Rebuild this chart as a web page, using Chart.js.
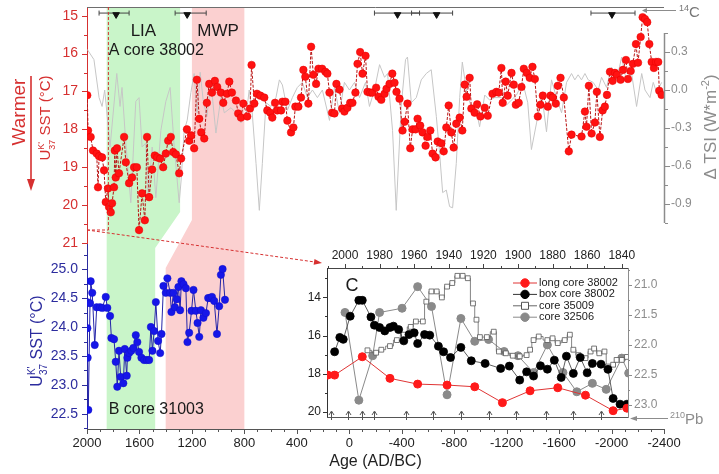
<!DOCTYPE html>
<html lang="en">
<head>
<meta charset="UTF-8" />
<title>UK'37 SST records</title>
<script src="https://cdn.jsdelivr.net/npm/chart.js"></script>
<style>
  html, body { margin: 0; padding: 0; background: #ffffff; }
  #figure { position: relative; width: 719px; height: 474px; overflow: hidden; }
  #figure canvas { position: absolute; left: 0; top: 0; }
</style>
</head>
<body>
<div id="figure">
  <canvas id="panelB" width="719" height="474"></canvas>
  <canvas id="panelA" width="719" height="474"></canvas>
  <canvas id="panelC" width="719" height="474"></canvas>
</div>
<script>
// ---- panel A, core 38002: age (AD, negative = BC) and UK'37 SST (°C)
const ageA = [
  1998, 1992, 1972, 1954, 1926, 1916, 1908, 1885, 1870, 1857,
  1840, 1832, 1819, 1809, 1794, 1788, 1781, 1771, 1756, 1717,
  1704, 1679, 1656, 1641, 1620, 1603, 1580, 1559, 1542, 1526,
  1503, 1483, 1465, 1442, 1419, 1399, 1381, 1361, 1343, 1322,
  1297, 1282, 1238, 1221, 1206, 1183, 1162, 1144, 1129, 1106,
  1086, 1068, 1047, 1025, 1007, 979, 961, 933, 915, 895,
  864, 847, 826, 808, 778, 757, 745, 724, 704, 678,
  648, 625, 602, 587, 566, 549, 520, 510, 487, 472,
  444, 426, 411, 388, 368, 350, 335, 312, 291, 274,
  253, 235, 207, 182, 167, 151, 131, 113, 98, 75,
  54, 37, 14, -7, -24, -47, -63, -83, -101, -124,
  -139, -160, -177, -205, -223, -244, -269, -284, -307, -328,
  -345, -360, -383, -406, -422, -444, -465, -483, -506, -521,
  -541, -559, -582, -597, -618, -635, -658, -674, -702, -720,
  -740, -758, -778, -796, -816, -842, -862, -880, -895, -918,
  -931, -956, -975, -1000, -1033, -1056, -1092, -1122, -1140, -1160,
  -1170, -1193, -1208, -1237, -1254, -1270, -1292, -1313, -1331, -1354,
  -1376, -1397, -1415, -1438, -1458, -1476, -1514, -1535, -1552, -1575,
  -1590, -1611, -1636, -1674, -1695, -1771, -1797, -1809, -1827, -1848,
  -1873, -1888, -1911, -1932, -1949, -1965, -1988, -2008, -2026, -2041,
  -2069, -2087, -2110, -2125, -2146, -2163, -2186, -2202, -2222, -2237,
  -2255, -2272, -2288, -2306, -2323, -2339, -2356, -2364, -2382
];
const sstA = [
  17.1, 18.03, 18.2, 18.56, 18.64, 19.53, 18.71, 18.74, 19.08, 19.92,
  19.56, 20.05, 20.19, 19.95, 19.53, 18.56, 19.27, 18.5, 19.16, 18.2,
  18.87, 19.42, 19.27, 19.0, 19.0, 20.66, 19.69, 20.4, 18.2, 19.79,
  19.06, 18.69, 18.74, 18.77, 19.0, 18.64, 18.3, 18.2, 18.6, 18.66,
  19.16, 18.77, 18.0, 18.3, 18.16, 18.5, 16.69, 17.72, 18.08, 18.24,
  17.3, 16.8, 17.03, 16.72, 16.88, 17.03, 17.3, 17.06, 16.74, 17.03,
  17.24, 17.58, 17.69, 17.32, 17.66, 17.45, 16.3, 17.32, 17.06, 17.11,
  17.16, 17.5, 17.56, 17.69, 17.3, 17.5, 17.5, 17.27, 17.27, 17.77,
  18.08, 17.95, 17.4, 17.4, 17.16, 16.43, 16.61, 17.32, 15.82, 16.56,
  16.8, 16.4, 16.4, 16.48, 16.53, 17.03, 17.56, 17.58, 16.8, 16.95,
  17.45, 17.53, 17.43, 17.3, 17.3, 17.03, 16.27, 15.96, 16.53, 16.06,
  17.01, 17.03, 17.03, 16.9, 17.14, 17.22, 17.06, 16.93, 16.8, 16.53,
  16.77, 17.01, 17.19, 18.03, 17.8, 17.32, 18.5, 18.0, 18.0, 17.72,
  17.9, 18.08, 18.43, 18.2, 18.03, 18.64, 18.74, 18.32, 18.37, 18.58,
  17.95, 17.37, 18.08, 18.48, 17.85, 17.69, 18.03, 16.82, 17.14, 16.64,
  17.45, 17.56, 17.34, 17.66, 17.43, 17.64, 17.06, 17.01, 17.03, 16.38,
  17.3, 16.74, 17.11, 16.51, 16.82, 17.35, 17.3, 16.88, 16.4, 16.51,
  16.64, 16.35, 16.67, 17.66, 17.35, 17.11, 17.4, 17.11, 17.16, 17.32,
  16.85, 16.64, 17.16, 18.58, 18.14, 18.19, 17.53, 17.93, 16.85, 18.11,
  17.82, 17.01, 18.2, 17.5, 17.4, 17.09, 16.48, 16.72, 16.51, 16.56,
  16.69, 16.43, 16.17, 16.67, 16.46, 16.27, 15.75, 16.24, 15.56, 15.04,
  15.09, 15.17, 15.75, 16.22, 16.38, 16.22, 16.22, 16.98, 17.09
];

// ---- panel A, total solar irradiance anomaly (W m-2)
const ageTSI = [
  1998, 1947, 1908, 1885, 1865, 1824, 1773, 1748, 1733, 1704,
  1666, 1628, 1603, 1580, 1552, 1534, 1503, 1475, 1437, 1399,
  1366, 1335, 1297, 1282, 1259, 1236, 1208, 1183, 1160, 1137,
  1114, 1086, 1055, 1017, 979, 953, 902, 864, 826, 788,
  763, 740, 711, 686, 663, 635, 597, 559, 533, 510,
  472, 434, 396, 358, 319, 281, 243, 205, 151, 113,
  75, 37, -1, -40, -78, -124, -154, -192, -231, -269,
  -292, -330, -358, -396, -429, -444, -473, -511, -549, -587,
  -625, -664, -689, -712, -740, -765, -788, -816, -842, -862,
  -893, -931, -969, -994, -1033, -1071, -1109, -1160, -1198, -1236,
  -1275, -1323, -1361, -1389, -1428, -1466, -1504, -1542, -1580, -1619,
  -1657, -1695, -1720, -1745, -1771, -1797, -1822, -1860, -1898, -1924,
  -1962, -2000, -2039, -2077, -2115, -2153, -2191, -2230, -2255, -2293,
  -2318, -2344, -2382
];
const tsiA = [
  0.32, 0.24, -0.06, -0.13, 0, -0.45, 0.13, -0.13, 0.02, -0.42,
  -0.89, -0.09, -0.06, -0.45, -0.42, -0.85, -0.45, -0.85, -0.32, -0.09,
  0.02, -0.45, -0.89, -0.71, -0.32, -0.24, -0.02, 0.13, -0.18, 0.14,
  -0.08, -0.21, 0.06, -0.34, -0.06, -0.18, -0.14, -0.18, -0.26, -0.21,
  0, -0.18, -0.58, -0.95, -0.58, -0.1, -0.13, -0.06, 0.08, 0.04,
  -0.16, -0.06, 0.02, 0.06, -0.06, 0, -0.06, 0, -0.24, 0.02,
  -0.18, 0.06, 0, 0.06, -0.06, 0.06, -0.13, 0, 0.2, 0.1,
  0.13, -0.32, -0.95, -0.13, 0.24, 0.26, -0.1, -0.06, 0.08, 0.13,
  0.16, -0.21, -0.5, -0.81, -0.79, -0.92, -0.93, -0.58, -0.06, 0.22,
  0, -0.14, -0.16, -0.29, -0.04, -0.08, -0.06, -0.06, -0.12, -0.08,
  -0.04, 0.06, -0.1, -0.47, -0.26, -0.02, -0.33, 0.08, -0.06, -0.18,
  0.06, 0.13, 0.08, 0.12, 0.08, 0.13, 0.08, 0.06, 0, 0.1,
  0.02, 0.18, 0.08, 0.26, 0.06, 0.13, -0.13, 0.13, 0, -0.06,
  0.06, -0.02, 0.06
];

// ---- 14C dates (triangles) and their age ranges
const c14Age = [1778, 1236, -368, -666, -2003];
const c14Young = [1679, 1091, -536, -788, -2179];
const c14Old = [1908, 1328, -192, -475, -1843];

// ---- panel B, core 31003
const ageB = [
  1999, 1997, 1995, 1990, 1977, 1972, 1960, 1941, 1926, 1901,
  1883, 1857, 1845, 1824, 1814, 1794, 1781, 1769, 1756, 1743,
  1723, 1712, 1697, 1692, 1679, 1662, 1646, 1628, 1616, 1603,
  1585, 1565, 1544, 1526, 1513, 1501, 1488, 1475, 1458, 1442,
  1432, 1417, 1399, 1387, 1366, 1356, 1341, 1330, 1315, 1303,
  1290, 1280, 1264, 1246, 1234, 1221, 1203, 1188, 1170, 1157,
  1144, 1131, 1112, 1093, 1076, 1060, 1047, 1030, 1009, 992,
  979, 966, 948
];
const sstB = [
  24.43, 23.98, 23.47, 22.57, 24.41, 24.79, 24.59, 23.69, 24.34, 24.34,
  24.33, 24.52, 24.33, 24.19, 23.81, 23.79, 23.4, 22.97, 23.59, 23.14,
  23.03, 23.62, 23.16, 23.47, 23.55, 23.59, 23.64, 23.86, 23.74, 23.57,
  23.47, 23.43, 23.43, 23.43, 24.0, 23.59, 23.93, 24.43, 23.76, 23.55,
  23.88, 24.71, 24.59, 24.84, 24.59, 24.26, 24.59, 24.34, 24.48, 24.69,
  24.29, 24.79, 24.74, 24.67, 23.74, 23.9, 24.28, 24.64, 24.28, 24.07,
  23.83, 24.29, 24.16, 24.24, 24.5, 24.5, 24.52, 24.45, 23.88, 24.36,
  24.9, 25.0, 24.47
];

// ---- panel C, last two centuries (year AD)
const yearLong = [2010, 2006, 1990, 1974, 1958, 1941, 1925, 1909, 1893, 1877, 1861, 1845, 1837];
const sstLong = [18.07, 18.07, 17.11, 18.24, 18.54, 18.59, 18.68, 19.51, 18.89, 18.73, 19.12, 19.93, 19.8];
const yearBox = [
  2006, 2003, 2001, 1997, 1992, 1990, 1985, 1983, 1980, 1977,
  1974, 1972, 1969, 1966, 1963, 1960, 1958, 1954, 1951, 1946,
  1943, 1939, 1933, 1927, 1919, 1910, 1905, 1899, 1895, 1891,
  1887, 1883, 1879, 1875, 1872, 1868, 1864, 1860, 1857, 1852,
  1848, 1845, 1841, 1837
];
const sstBox = [
  16.85, 16.1, 16.2, 14.99, 14.16, 14.16, 15.03, 15.46, 15.58, 15.76,
  15.58, 15.51, 15.69, 16.28, 15.95, 15.86, 16.42, 15.95, 15.98, 16.56,
  16.85, 17.15, 16.62, 17.32, 17.46, 17.72, 17.6, 18.33, 17.9, 18.12,
  17.58, 17.76, 17.29, 18.19, 17.08, 17.98, 17.15, 17.95, 17.46, 17.5,
  17.77, 19.29, 19.59, 19.59
];
const year35009 = [
  1987, 1982, 1979, 1974, 1970, 1966, 1962, 1959, 1955, 1953,
  1950, 1947, 1944, 1941, 1938, 1935, 1932, 1929, 1926, 1924,
  1922, 1918, 1914, 1911, 1907, 1903, 1899, 1895, 1893, 1891,
  1888, 1883, 1880, 1877, 1873, 1870, 1868, 1865, 1861, 1858,
  1856, 1853, 1850, 1848, 1845, 1843, 1840, 1837
];
const sst35009 = [
  22.09, 22.13, 22.08, 22.02, 21.92, 21.83, 21.7, 21.61, 21.61, 21.28,
  21.11, 21.11, 21.21, 21.03, 20.97, 20.85, 20.85, 20.89, 21.31, 21.58,
  21.87, 21.87, 21.78, 22.11, 22.14, 22.18, 22.19, 22.17, 22.08, 21.92,
  21.86, 21.92, 21.89, 21.97, 21.92, 21.83, 22.08, 22.17, 22.22, 22.11,
  22.06, 22.14, 22.11, 22.36, 22.33, 22.25, 22.25, 22.2
];
const year32506 = [2000, 1992, 1984, 1980, 1967, 1958, 1950, 1941, 1933, 1925, 1917, 1908, 1900, 1891, 1883, 1874, 1866, 1857, 1849, 1840, 1836];
const sst32506 = [21.46, 22.92, 22.18, 21.46, 21.39, 21.03, 21.36, 22.83, 21.56, 21.94, 21.91, 22.11, 22.18, 22.46, 22.0, 22.46, 22.78, 22.64, 22.74, 22.22, 22.47];
const pb210Years = [2008, 1998, 1990, 1983, 1965, 1949, 1933, 1917, 1901, 1884, 1868, 1852];

// ---- climate intervals (AD) as drawn in panel A and in panel B
const liaA = [1850, 1290], liaB = [1850, 1480];
const mwpA = [1200, 800], mwpB = [1400, 800];

// ---- tick labels
const ageTicks = [2000, 1600, 1200, 800, 400, 0, -400, -800, -1200, -1600, -2000, -2400];
const sstTicksA = [15, 16, 17, 18, 19, 20, 21];
const tsiTicks = [-0.9, -0.6, -0.3, 0, 0.3];
const sstTicksB = [22.5, 23, 23.5, 24, 24.5, 25];
const yearTicksC = [2000, 1980, 1960, 1940, 1920, 1900, 1880, 1860, 1840];
const sstTicksC = [14, 16, 18, 20];
const rightTicksC = [21, 21.5, 22, 22.5, 23];

// ---- layout (pixels)
const W = 719, H = 474;
const PLOT = { left: 87, right: 664 };
const BOX_A = { top: 7, bottom: 243 };
const BOX_B = { top: 243, bottom: 429 };
const INSET = { left: 327, top: 268, right: 628, bottom: 417 };
const SLANT = { lia: [212, 248], mwp: [220, 268] };
const C14_LEVEL = 14.97;

const FONT = "'Liberation Sans', Arial, Helvetica, sans-serif";
const RED = '#d63030';
const BLUE = '#2c2c9e';
const GRAY = '#8c8c8c';
const INK = '#1a1a1a';
Chart.defaults.font.family = FONT;

function pts(xs, ys) { return xs.map((x, i) => ({ x: x, y: ys[i] })); }

function seg(ctx, x1, y1, x2, y2, color, width, dash) {
  ctx.save();
  ctx.beginPath();
  ctx.strokeStyle = color;
  ctx.lineWidth = width || 1;
  ctx.setLineDash(dash || []);
  ctx.moveTo(x1, y1);
  ctx.lineTo(x2, y2);
  ctx.stroke();
  ctx.restore();
}

// filled arrow head, tip at (x, y), pointing along angle
function head(ctx, x, y, angle, len, half, color) {
  ctx.save();
  ctx.translate(x, y);
  ctx.rotate(angle);
  ctx.beginPath();
  ctx.moveTo(0, 0);
  ctx.lineTo(-len, -half);
  ctx.lineTo(-len, half);
  ctx.closePath();
  ctx.fillStyle = color;
  ctx.fill();
  ctx.restore();
}

function tickMarks(ctx, scale, from, to, step, major, edge, dir, color, lens) {
  const n = Math.round((to - from) / step);
  for (let k = 0; k <= n; k++) {
    const v = from + k * step;
    const isMajor = Math.abs(v / major - Math.round(v / major)) < 1e-6;
    const len = isMajor ? lens[0] : lens[1];
    const p = Math.round(scale.getPixelForValue(v)) + 0.5;
    if (scale.isHorizontal()) seg(ctx, p, edge, p, edge + dir * len, color, 1);
    else seg(ctx, edge, p, edge + dir * len, p, color, 1);
  }
}

// text made of normal and superscript parts, optionally rotated to read upwards
function richText(ctx, x, y, parts, size, color, rotated, align) {
  ctx.save();
  ctx.translate(x, y);
  if (rotated) ctx.rotate(-Math.PI / 2);
  ctx.fillStyle = color;
  ctx.textBaseline = 'alphabetic';
  ctx.textAlign = 'left';
  const fonts = parts.map(p => (p[1] ? Math.round(size * 0.62) : size) + 'px ' + FONT);
  const widths = parts.map((p, i) => { ctx.font = fonts[i]; return ctx.measureText(p[0]).width; });
  const total = widths.reduce((a, b) => a + b, 0);
  let cx = align === 'left' ? 0 : -total / 2;
  const base = size * 0.36;
  parts.forEach((p, i) => {
    ctx.font = fonts[i];
    ctx.fillText(p[0], cx, p[1] ? base - size * 0.42 : base);
    cx += widths[i];
  });
  ctx.restore();
}

// "U K' 37 SST (°C)" with stacked super/subscript, rotated
function ukTitle(ctx, x, y, size, color) {
  ctx.save();
  ctx.translate(x, y);
  ctx.rotate(-Math.PI / 2);
  ctx.fillStyle = color;
  ctx.textBaseline = 'alphabetic';
  ctx.textAlign = 'left';
  const big = size + 'px ' + FONT, small = Math.round(size * 0.6) + 'px ' + FONT;
  const rest = ' SST (°C)';
  ctx.font = big;
  const wU = ctx.measureText('U').width, wR = ctx.measureText(rest).width;
  ctx.font = small;
  const wS = Math.max(ctx.measureText("K'").width, ctx.measureText('37').width);
  let cx = -(wU + wS + wR) / 2;
  const base = size * 0.36;
  ctx.font = big; ctx.fillText('U', cx, base); cx += wU;
  ctx.font = small;
  ctx.fillText("K'", cx, base - size * 0.42);
  ctx.fillText('37', cx, base + size * 0.3);
  cx += wS;
  ctx.font = big; ctx.fillText(rest, cx, base);
  ctx.restore();
}

function label(ctx, text, x, y, size, color, align) {
  ctx.save();
  ctx.font = size + 'px ' + FONT;
  ctx.fillStyle = color;
  ctx.textAlign = align || 'center';
  ctx.textBaseline = 'middle';
  ctx.fillText(text, x, y);
  ctx.restore();
}

function fixedBox(w, h) {
  return s => {
    if (w !== null) s.width = w;
    if (h !== null) s.height = h;
    s.paddingLeft = 0; s.paddingRight = 0; s.paddingTop = 0; s.paddingBottom = 0;
  };
}
function setTicks(values) { return s => { s.ticks = values.map(v => ({ value: v })); }; }

// ---------------- bands + panel B ----------------
const bandsPlugin = {
  id: 'bands',
  beforeDraw(chart) {
    const { ctx, chartArea: ca } = chart;
    const x = v => chart.scales.x.getPixelForValue(v);
    const top = BOX_A.top, bottom = ca.bottom;
    ctx.save();
    ctx.fillStyle = '#c9f5c9';
    ctx.beginPath();
    ctx.moveTo(x(liaA[0]), top);
    ctx.lineTo(x(liaA[1]), top);
    ctx.lineTo(x(liaA[1]), SLANT.lia[0]);
    ctx.lineTo(x(liaB[1]), SLANT.lia[1]);
    ctx.lineTo(x(liaB[1]), bottom);
    ctx.lineTo(x(liaB[0]), bottom);
    ctx.closePath();
    ctx.fill();
    ctx.fillStyle = '#fbd0d0';
    ctx.beginPath();
    ctx.moveTo(x(mwpA[0]), top);
    ctx.lineTo(x(mwpA[1]), top);
    ctx.lineTo(x(mwpB[1]), bottom);
    ctx.lineTo(x(mwpB[0]), bottom);
    ctx.lineTo(x(mwpB[0]), SLANT.mwp[1]);
    ctx.lineTo(x(mwpA[0]), SLANT.mwp[0]);
    ctx.closePath();
    ctx.fill();
    ctx.restore();
  }
};

const panelBExtras = {
  id: 'panelBExtras',
  afterDraw(chart) {
    const { ctx, chartArea: ca } = chart;
    tickMarks(ctx, chart.scales.x, -2400, 2000, 100, 400, ca.bottom, 1, '#555', [5, 3]);
    tickMarks(ctx, chart.scales.y, 22.25, 25.25, 0.25, 0.5, ca.left, -1, BLUE, [5, 3]);
    ukTitle(ctx, 36, 341, 16, BLUE);
    label(ctx, 'B core 31003', chart.scales.x.getPixelForValue(liaB[0]) + 2, 410, 16, INK, 'left');
  }
};

const chartB = new Chart(document.getElementById('panelB'), {
  type: 'line',
  data: {
    datasets: [{
      label: 'core 31003',
      data: pts(ageB, sstB),
      borderColor: '#2424a8',
      borderWidth: 1,
      pointRadius: 3.7,
      pointBackgroundColor: '#1616e8',
      pointBorderColor: '#1010c8',
      pointBorderWidth: 0.5
    }]
  },
  options: {
    responsive: false,
    animation: false,
    events: [],
    layout: { padding: { top: BOX_B.top, right: W - PLOT.right, left: 0, bottom: 0 } },
    plugins: { legend: { display: false }, tooltip: { enabled: false } },
    scales: {
      x: {
        type: 'linear', reverse: true, min: -2400, max: 2000,
        afterFit: fixedBox(null, H - BOX_B.bottom),
        afterBuildTicks: setTicks(ageTicks),
        ticks: { callback: v => String(v), color: '#222', font: { size: 13 }, padding: 7, autoSkip: false, maxRotation: 0 },
        grid: { display: false, drawTicks: false },
        border: { color: '#555', width: 1 },
        title: { display: true, text: 'Age (AD/BC)', color: '#222', font: { size: 16 }, padding: { top: 0, bottom: 3 } }
      },
      y: {
        type: 'linear', position: 'left', min: 22.24, max: 25.45,
        afterFit: fixedBox(PLOT.left, null),
        afterBuildTicks: setTicks(sstTicksB),
        ticks: { callback: v => v.toFixed(1), color: BLUE, font: { size: 14 }, padding: 9 },
        grid: { display: false, drawTicks: false },
        border: { color: BLUE, width: 1 }
      }
    }
  },
  plugins: [bandsPlugin, panelBExtras]
});

// ---------------- panel A ----------------
const panelAExtras = {
  id: 'panelAExtras',
  beforeDatasetsDraw(chart) {
    const { ctx } = chart;
    const x = chart.scales.x, yS = chart.scales.ySST;
    const cy = yS.getPixelForValue(C14_LEVEL) - 1.5;
    c14Age.forEach((a, i) => {
      const xo = x.getPixelForValue(c14Old[i]), xy = x.getPixelForValue(c14Young[i]);
      seg(ctx, xo, cy, xy, cy, '#444', 1);
      seg(ctx, xo, cy - 2.5, xo, cy + 2.5, '#444', 1);
      seg(ctx, xy, cy - 2.5, xy, cy + 2.5, '#444', 1);
    });
  },
  afterDraw(chart) {
    const { ctx, chartArea: ca } = chart;
    const x = chart.scales.x, yS = chart.scales.ySST, yT = chart.scales.yTSI;
    // frame top and axis ticks
    seg(ctx, ca.left, ca.top + 0.5, ca.right, ca.top + 0.5, '#6e6e6e', 1);
    tickMarks(ctx, yS, 15, 21, 0.5, 1, ca.left, -1, RED, [5, 3]);
    const tTop = yT.getPixelForValue(0.45), tBot = yT.getPixelForValue(-1.05);
    seg(ctx, ca.right + 0.5, tTop, ca.right + 0.5, tBot, GRAY, 1.5);
    tickMarks(ctx, yT, -1.05, 0.45, 0.15, 0.3, ca.right + 1, 1, GRAY, [5, 3]);

    // 14C pointer
    seg(ctx, ca.right - 21, 10.5, ca.right + 12, 10.5, GRAY, 1);
    head(ctx, ca.right - 22, 10.5, Math.PI, 5, 2.5, GRAY);
    richText(ctx, ca.right + 15, 12, [['14', 1], ['C', 0]], 15, '#777', false, 'left');

    // interval and panel labels
    const px = v => x.getPixelForValue(v);
    label(ctx, 'LIA', (px(liaA[0]) + px(liaA[1])) / 2, ca.top + 24, 17, INK);
    label(ctx, 'MWP', (px(mwpA[0]) + px(mwpA[1])) / 2, ca.top + 24, 17, INK);
    label(ctx, 'A core 38002', px(liaA[0]) + 2, ca.top + 44, 16, INK, 'left');

    // dashed box marking the interval enlarged in C, and arrow to C
    const bx = px(yearLong[yearLong.length - 1]);
    const by = ca.top + 223;
    seg(ctx, bx, ca.top, bx, by, RED, 1, [3, 2]);
    seg(ctx, ca.left, by, bx, by, RED, 1, [3, 2]);
    const tx = INSET.left - 5, ty = INSET.top - 5;
    const ang = Math.atan2(ty - by, tx - ca.left);
    seg(ctx, ca.left, by, tx - 7 * Math.cos(ang), ty - 7 * Math.sin(ang), RED, 1, [3, 2]);
    head(ctx, tx, ty, ang, 8, 3, RED);

    // axis titles
    ctx.save();
    ctx.translate(20, 112);
    ctx.rotate(-Math.PI / 2);
    ctx.font = '19px ' + FONT;
    ctx.fillStyle = RED;
    ctx.textAlign = 'center';
    ctx.textBaseline = 'middle';
    ctx.fillText('Warmer', 0, 0);
    ctx.restore();
    seg(ctx, 31, 76, 31, 180, RED, 1.6);
    head(ctx, 31, 191, Math.PI / 2, 12, 4, RED);
    ukTitle(ctx, 45, 118, 15, RED);
    richText(ctx, 710, 127, [['Δ TSI (W*m', 0], ['-2', 1], [')', 0]], 17, GRAY, true);
  }
};

const chartA = new Chart(document.getElementById('panelA'), {
  type: 'line',
  data: {
    datasets: [
      {
        label: 'core 38002',
        data: pts(ageA, sstA),
        yAxisID: 'ySST',
        borderColor: '#b81212',
        borderWidth: 1,
        borderDash: [3, 1.5],
        pointRadius: 3.8,
        pointBackgroundColor: '#ff1212',
        pointBorderColor: '#e60000',
        pointBorderWidth: 0.5
      },
      {
        label: '14C',
        data: c14Age.map(a => ({ x: a, y: C14_LEVEL })),
        yAxisID: 'ySST',
        showLine: false,
        pointStyle: 'triangle',
        rotation: 180,
        pointRadius: 3.8,
        pointBackgroundColor: '#111',
        pointBorderColor: '#111'
      },
      {
        label: 'TSI',
        data: pts(ageTSI, tsiA),
        yAxisID: 'yTSI',
        borderColor: '#c6c6c6',
        borderWidth: 1,
        pointRadius: 0
      }
    ]
  },
  options: {
    responsive: false,
    animation: false,
    events: [],
    layout: { padding: { top: BOX_A.top, bottom: H - BOX_A.bottom, left: 0, right: 0 } },
    plugins: { legend: { display: false }, tooltip: { enabled: false } },
    scales: {
      x: {
        type: 'linear', display: false, reverse: true, min: -2400, max: 2000,
        afterFit: fixedBox(null, 0)
      },
      ySST: {
        type: 'linear', position: 'left', reverse: true, min: 14.77, max: 21,
        afterFit: fixedBox(PLOT.left, null),
        afterBuildTicks: setTicks(sstTicksA),
        ticks: { callback: v => String(v), color: RED, font: { size: 14 }, padding: 9 },
        grid: { display: false, drawTicks: false },
        border: { color: RED, width: 1, dash: [2, 2] }
      },
      yTSI: {
        type: 'linear', position: 'right', min: -1.2076, max: 0.655,
        afterFit: fixedBox(W - PLOT.right, null),
        afterBuildTicks: setTicks(tsiTicks),
        ticks: { callback: v => v.toFixed(1), color: GRAY, font: { size: 12 }, padding: 7 },
        grid: { display: false, drawTicks: false },
        border: { display: false }
      }
    }
  },
  plugins: [panelAExtras]
});

// ---------------- panel C (inset) ----------------
const panelCExtras = {
  id: 'panelCExtras',
  beforeDraw(chart) {
    const { ctx, chartArea: ca } = chart;
    ctx.save();
    ctx.fillStyle = '#ffffff';
    ctx.fillRect(ca.left, ca.top, ca.right - ca.left, ca.bottom - ca.top);
    ctx.restore();
  },
  afterDraw(chart) {
    const { ctx, chartArea: ca } = chart;
    const x = chart.scales.x;
    seg(ctx, ca.left, ca.bottom + 0.5, ca.right, ca.bottom + 0.5, '#555', 1);
    tickMarks(ctx, x, 1840, 2010, 10, 20, ca.top, -1, '#444', [4, 2]);
    tickMarks(ctx, chart.scales.yL, 13, 20, 1, 2, ca.left, -1, '#333', [4, 2]);
    tickMarks(ctx, chart.scales.yR, 20.75, 23, 0.25, 0.5, ca.right, 1, GRAY, [4, 2]);

    label(ctx, 'C', ca.left + 25, ca.top + 18, 18, INK);

    // legend
    const lx = ca.left + 186;
    chart.data.datasets.forEach((ds, i) => {
      const y = ca.top + 15 + i * 11.4;
      seg(ctx, lx, y, lx + 24, y, ds.borderColor, 1);
      ctx.save();
      ctx.fillStyle = ds.pointBackgroundColor;
      ctx.strokeStyle = ds.pointBorderColor;
      ctx.lineWidth = 1;
      ctx.beginPath();
      if (ds.pointStyle === 'rect') {
        ctx.rect(lx + 8.5, y - 3.5, 7, 7);
      } else {
        ctx.arc(lx + 12, y, 4.2, 0, Math.PI * 2);
      }
      ctx.fill();
      ctx.stroke();
      ctx.restore();
      label(ctx, ds.label, lx + 26, y, 11, INK, 'left');
    });

    // 210Pb dated levels
    pb210Years.forEach(yr => {
      const p = Math.round(x.getPixelForValue(yr)) + 0.5;
      seg(ctx, p, ca.bottom + 3, p, ca.bottom - 5, '#555', 1);
      seg(ctx, p - 2.5, ca.bottom - 2, p, ca.bottom - 6, '#555', 1);
      seg(ctx, p + 2.5, ca.bottom - 2, p, ca.bottom - 6, '#555', 1);
    });
    seg(ctx, ca.right + 8, ca.bottom + 1.5, ca.right + 40, ca.bottom + 1.5, GRAY, 1);
    head(ctx, ca.right + 2, ca.bottom + 1.5, Math.PI, 7, 2.5, GRAY);
    richText(ctx, ca.right + 42, ca.bottom + 2, [['210', 1], ['Pb', 0]], 15, GRAY, false, 'left');
  }
};

const chartC = new Chart(document.getElementById('panelC'), {
  type: 'line',
  data: {
    datasets: [
      {
        label: 'long core 38002',
        data: pts(yearLong, sstLong),
        yAxisID: 'yL',
        borderColor: '#e03535',
        borderWidth: 1,
        pointRadius: 4,
        pointBackgroundColor: '#ff1a1a',
        pointBorderColor: '#ff1a1a'
      },
      {
        label: 'box core 38002',
        data: pts(yearBox, sstBox),
        yAxisID: 'yL',
        borderColor: '#333',
        borderWidth: 0.8,
        pointRadius: 4,
        pointBackgroundColor: '#000',
        pointBorderColor: '#000'
      },
      {
        label: 'core 35009',
        data: pts(year35009, sst35009),
        yAxisID: 'yR',
        stepped: 'middle',
        borderColor: '#666',
        borderWidth: 0.8,
        pointStyle: 'rect',
        pointRadius: 3.4,
        pointBackgroundColor: '#fff',
        pointBorderColor: '#555',
        pointBorderWidth: 0.8
      },
      {
        label: 'core 32506',
        data: pts(year32506, sst32506),
        yAxisID: 'yR',
        borderColor: '#8a8a8a',
        borderWidth: 1,
        pointRadius: 4,
        pointBackgroundColor: '#8a8a8a',
        pointBorderColor: '#8a8a8a'
      }
    ]
  },
  options: {
    responsive: false,
    animation: false,
    events: [],
    layout: { padding: { top: 0, left: 0, right: 0, bottom: H - INSET.bottom } },
    plugins: { legend: { display: false }, tooltip: { enabled: false } },
    scales: {
      x: {
        type: 'linear', position: 'top', reverse: true, min: 1836.4, max: 2010.4,
        afterFit: fixedBox(null, INSET.top),
        afterBuildTicks: setTicks(yearTicksC),
        ticks: { callback: v => String(v), color: '#222', font: { size: 12 }, padding: 5, autoSkip: false, maxRotation: 0 },
        grid: { display: false, drawTicks: false },
        border: { color: '#444', width: 1 }
      },
      yL: {
        type: 'linear', position: 'left', reverse: true, min: 12.47, max: 20.26,
        afterFit: fixedBox(INSET.left, null),
        afterBuildTicks: setTicks(sstTicksC),
        ticks: { callback: v => String(v), color: '#222', font: { size: 12 }, padding: 6 },
        grid: { display: false, drawTicks: false },
        border: { color: '#333', width: 1 }
      },
      yR: {
        type: 'linear', position: 'right', reverse: true, min: 20.72, max: 23.2,
        afterFit: fixedBox(W - INSET.right, null),
        afterBuildTicks: setTicks(rightTicksC),
        ticks: { callback: v => v.toFixed(1), color: GRAY, font: { size: 12 }, padding: 6 },
        grid: { display: false, drawTicks: false },
        border: { color: GRAY, width: 1 }
      }
    }
  },
  plugins: [panelCExtras]
});
</script>
</body>
</html>
